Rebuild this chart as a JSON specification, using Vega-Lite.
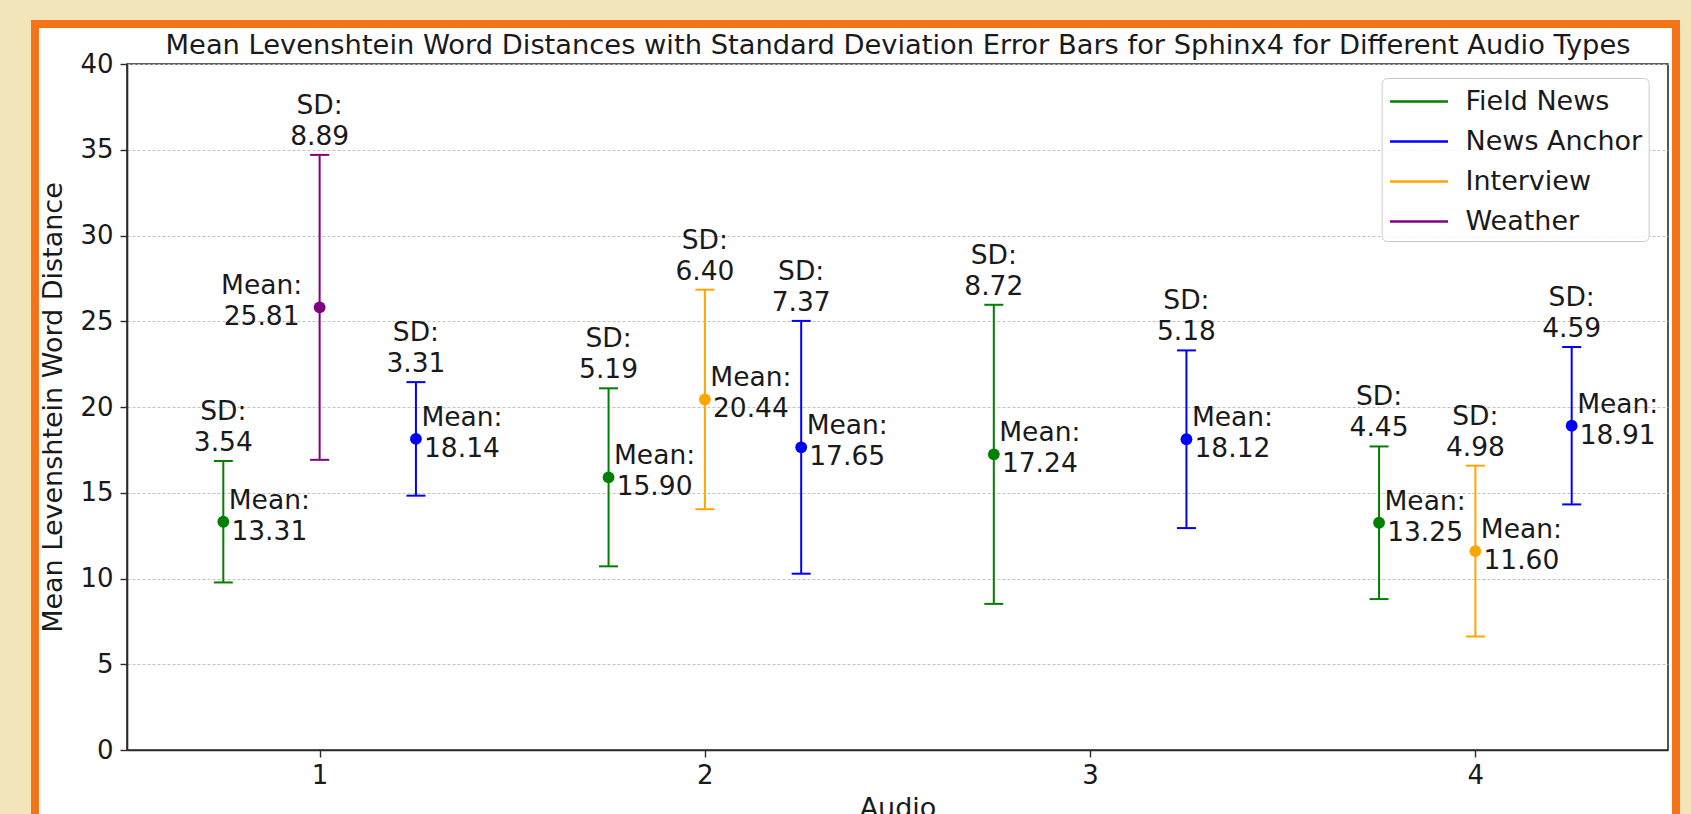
{
  "$schema": "https://vega.github.io/schema/vega-lite/v6.json",
  "width": 1541,
  "height": 686,
  "autosize": "none",
  "padding": {"left": 127, "top": 64, "right": 23, "bottom": 64},
  "background": "white",
  "data": {
    "values": [
      {"audio": 1, "type": "Field News", "pos": 0.75, "mean": 13.31, "sd": 3.54},
      {"audio": 1, "type": "Weather", "pos": 1.0, "mean": 25.81, "sd": 8.89},
      {"audio": 1, "type": "News Anchor", "pos": 1.25, "mean": 18.14, "sd": 3.31},
      {"audio": 2, "type": "Field News", "pos": 1.75, "mean": 15.90, "sd": 5.19},
      {"audio": 2, "type": "Interview", "pos": 2.0, "mean": 20.44, "sd": 6.40},
      {"audio": 2, "type": "News Anchor", "pos": 2.25, "mean": 17.65, "sd": 7.37},
      {"audio": 3, "type": "Field News", "pos": 2.75, "mean": 17.24, "sd": 8.72},
      {"audio": 3, "type": "News Anchor", "pos": 3.25, "mean": 18.12, "sd": 5.18},
      {"audio": 4, "type": "Field News", "pos": 3.75, "mean": 13.25, "sd": 4.45},
      {"audio": 4, "type": "Interview", "pos": 4.0, "mean": 11.60, "sd": 4.98},
      {"audio": 4, "type": "News Anchor", "pos": 4.25, "mean": 18.91, "sd": 4.59}
    ]
  },
  "transform": [
    {"calculate": "datum.mean + datum.sd", "as": "hi"},
    {"calculate": "datum.mean - datum.sd", "as": "lo"},
    {"calculate": "'SD:\\n' + format(datum.sd, '.2f')", "as": "sdText"},
    {"calculate": "'Mean:\\n' + format(datum.mean, '.2f')", "as": "meanText"}
  ],
  "resolve": {"axis": {"x": "independent"}},
  "layer": [
    {
      "layer": [
        {
          "mark": {"type": "rule", "strokeWidth": 2, "opacity": 1},
          "encoding": {
            "x": {
              "field": "pos",
              "type": "quantitative",
              "scale": {"domain": [0.5, 4.5], "nice": false, "zero": false},
              "axis": {
                "orient": "bottom",
                "values": [1, 2, 3, 4],
                "format": "d",
                "title": "Audio",
                "grid": false,
                "labelPadding": 5,
                "titlePadding": 7
              }
            },
            "y": {
              "field": "lo",
              "type": "quantitative",
              "title": "Mean Levenshtein Word Distance",
              "scale": {"domain": [0, 40], "nice": false, "zero": true},
              "axis": {
                "values": [0, 5, 10, 15, 20, 25, 30, 35, 40],
                "grid": true,
                "gridDash": [3, 2],
                "gridColor": "#c2c2c2",
                "gridWidth": 1,
                "labelPadding": 7,
                "titlePadding": 12
              }
            },
            "y2": {"field": "hi"},
            "color": {
              "field": "type",
              "type": "nominal",
              "scale": {
                "domain": ["Field News", "News Anchor", "Interview", "Weather"],
                "range": ["green", "blue", "orange", "purple"]
              },
              "legend": {
                "orient": "none",
                "legendX": 1254.7,
                "legendY": 14,
                "title": null,
                "symbolType": "M-1.8125,0H1.8125",
                "symbolSize": 1024,
                "symbolStrokeWidth": 2.5,
                "symbolOffset": 13.8,
                "labelOffset": 29,
                "labelLimit": 500,
                "labelFontSize": 27,
                "labelColor": "#1a1a1a",
                "rowPadding": 9,
                "padding": 6,
                "fillColor": "rgba(255,255,255,0.8)",
                "strokeColor": "#cccccc",
                "cornerRadius": 5,
                "encode": {
                  "legend": {"update": {"strokeWidth": {"value": 1}}},
                  "symbols": {"update": {"strokeWidth": {"value": 2.6}}}
                }
              }
            }
          }
        },
        {
          "mark": {"type": "tick", "orient": "horizontal", "size": 19, "thickness": 2, "opacity": 1},
          "encoding": {
            "x": {"field": "pos", "type": "quantitative"},
            "y": {"field": "lo", "type": "quantitative"},
            "color": {"field": "type", "type": "nominal"}
          }
        },
        {
          "mark": {"type": "tick", "orient": "horizontal", "size": 19, "thickness": 2, "opacity": 1},
          "encoding": {
            "x": {"field": "pos", "type": "quantitative"},
            "y": {"field": "hi", "type": "quantitative"},
            "color": {"field": "type", "type": "nominal"}
          }
        },
        {
          "mark": {"type": "point", "filled": true, "size": 140, "strokeWidth": 0, "opacity": 1},
          "encoding": {
            "x": {"field": "pos", "type": "quantitative"},
            "y": {"field": "mean", "type": "quantitative"},
            "color": {"field": "type", "type": "nominal"}
          }
        },
        {
          "mark": {
            "type": "text",
            "align": "center",
            "baseline": "bottom",
            "dy": -35,
            "fontSize": 26.5,
            "lineHeight": 31,
            "lineBreak": "\n",
            "color": "#1a1a1a"
          },
          "encoding": {
            "x": {"field": "pos", "type": "quantitative"},
            "y": {"field": "hi", "type": "quantitative"},
            "text": {"field": "sdText", "type": "nominal"}
          }
        },
        {
          "transform": [{"filter": "datum.type != 'Weather'"}],
          "mark": {
            "type": "text",
            "align": "center",
            "baseline": "middle",
            "dx": 46,
            "dy": -21,
            "fontSize": 26.5,
            "lineHeight": 31,
            "lineBreak": "\n",
            "color": "#1a1a1a"
          },
          "encoding": {
            "x": {"field": "pos", "type": "quantitative"},
            "y": {"field": "mean", "type": "quantitative"},
            "text": {"field": "meanText", "type": "nominal"}
          }
        },
        {
          "transform": [{"filter": "datum.type == 'Weather'"}],
          "mark": {
            "type": "text",
            "align": "center",
            "baseline": "middle",
            "dx": -58,
            "dy": -21,
            "fontSize": 26.5,
            "lineHeight": 31,
            "lineBreak": "\n",
            "color": "#1a1a1a"
          },
          "encoding": {
            "x": {"field": "pos", "type": "quantitative"},
            "y": {"field": "mean", "type": "quantitative"},
            "text": {"field": "meanText", "type": "nominal"}
          }
        }
      ]
    },
    {
      "mark": {"type": "point", "filled": true, "opacity": 0, "size": 4},
      "encoding": {
        "x": {
          "field": "pos",
          "type": "quantitative",
          "axis": {
            "orient": "top",
            "title": "Mean Levenshtein Word Distances with Standard Deviation Error Bars for Sphinx4 for Different Audio Types",
            "titleFontSize": 27.3,
            "titleFontWeight": "normal",
            "titlePadding": 5,
            "labels": false,
            "ticks": false,
            "domain": false,
            "grid": false
          }
        },
        "y": {"field": "mean", "type": "quantitative", "title": "Mean Levenshtein Word Distance"},
        "fill": {
          "field": "mean",
          "type": "quantitative",
          "scale": {"range": ["#ffffff", "#ffffff"]},
          "legend": {
            "type": "gradient",
            "direction": "vertical",
            "orient": "none",
            "legendX": -127,
            "legendY": -75,
            "gradientLength": 950,
            "gradientThickness": 1711,
            "gradientOpacity": 0,
            "gradientStrokeWidth": 0,
            "padding": 0,
            "title": null,
            "labelOpacity": 0,
            "labelExpr": "''",
            "labelFontSize": 1,
            "labelOffset": 0,
            "tickCount": 2,
            "strokeColor": "#f1e5b9",
            "cornerRadius": 0,
            "encode": {"legend": {"update": {"strokeWidth": {"value": 62}}}}
          }
        },
        "stroke": {
          "field": "sd",
          "type": "quantitative",
          "scale": {"range": ["#ffffff", "#ffffff"]},
          "legend": {
            "type": "gradient",
            "direction": "vertical",
            "orient": "none",
            "legendX": -92,
            "legendY": -40,
            "gradientLength": 880,
            "gradientThickness": 1641,
            "gradientOpacity": 0,
            "gradientStrokeWidth": 0,
            "padding": 0,
            "title": null,
            "labelOpacity": 0,
            "labelExpr": "''",
            "labelFontSize": 1,
            "labelOffset": 0,
            "tickCount": 2,
            "strokeColor": "#f47319",
            "cornerRadius": 0,
            "encode": {"legend": {"update": {"strokeWidth": {"value": 8}}}}
          }
        }
      }
    }
  ],
  "config": {
    "font": "DejaVu Sans",
    "view": {"stroke": "#2b2b2b", "strokeWidth": 1.6},
    "axis": {
      "labelColor": "#1a1a1a",
      "titleColor": "#1a1a1a",
      "labelFontSize": 26,
      "titleFontSize": 27,
      "titleFontWeight": "normal",
      "tickColor": "#2b2b2b",
      "domainColor": "#2b2b2b",
      "domainWidth": 1.6,
      "tickWidth": 1.4,
      "tickSize": 7
    }
  }
}
